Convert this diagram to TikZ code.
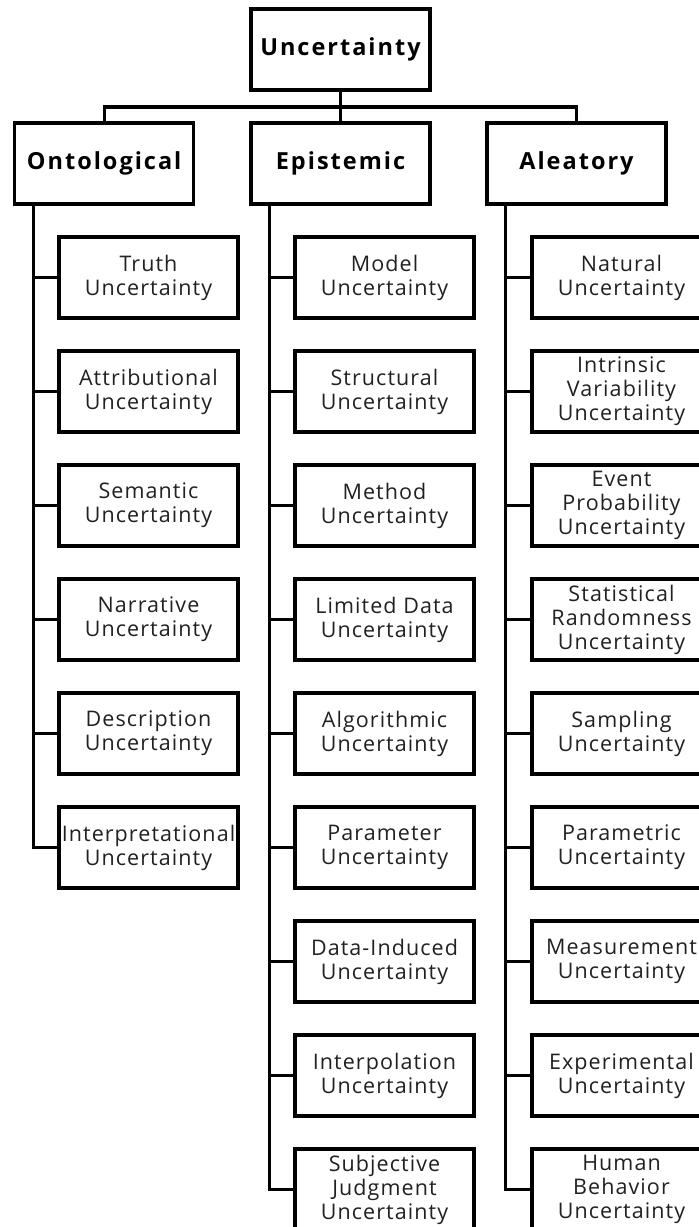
\documentclass[tikz,border=0pt]{standalone}
\usepackage{fontspec}
\setmainfont{Open Sans}
\newfontfamily\leaffont[LetterSpace=5]{Open Sans}
\newfontfamily\headfont[LetterSpace=8.5]{Open Sans}
\begin{document}
\begin{tikzpicture}[x=1pt,y=-1pt,
  box/.style={draw=black, line width=3.2pt, minimum width=179pt, minimum height=81pt, inner sep=0pt, outer sep=0pt, align=center, anchor=north west},
  head/.style={box, font=\headfont\fontsize{23.5}{27}\selectfont\bfseries},
  leaf/.style={box, text=black!87, font=\leaffont\fontsize{21.5}{24}\selectfont},
  conn/.style={line width=3.2pt, line join=miter}
]
\clip (0,0) rectangle (699,1227);
\fill[white] (0,0) rectangle (699,1227);
\node[head] (root) at (251,9) {Uncertainty};
\node[head] (ont) at (14.7,123) {Ontological};
\node[head] (epi) at (251,123) {Epistemic};
\node[head] (ale) at (487,123) {Aleatory};
\coordinate (bus) at (root.south |- 0,107);
\draw[conn] (root.south) -- (bus);
\draw[conn] (ont.north) |- (bus) -| (ale.north);
\draw[conn] (bus) -- (epi.north);
% Ontological children
\foreach \t [count=\i from 0] in {{Truth\\Uncertainty},{Attributional\\Uncertainty},{Semantic\\Uncertainty},{Narrative\\Uncertainty},{Description\\Uncertainty},{Interpretational\\Uncertainty}}{
  \node[leaf] (o\i) at (59,237+114*\i) {\t};
  \draw[conn] ([xshift=18.5pt]ont.south west) |- (o\i.west);
}
% Epistemic children
\foreach \t [count=\i from 0] in {{Model\\Uncertainty},{Structural\\Uncertainty},{Method\\Uncertainty},{Limited Data\\Uncertainty},{Algorithmic\\Uncertainty},{Parameter\\Uncertainty},{Data-Induced\\Uncertainty},{Interpolation\\Uncertainty},{Subjective\\Judgment\\Uncertainty}}{
  \node[leaf] (e\i) at (295,237+114*\i) {\t};
  \draw[conn] ([xshift=18.5pt]epi.south west) |- (e\i.west);
}
% Aleatory children
\foreach \t [count=\i from 0] in {{Natural\\Uncertainty},{Intrinsic\\Variability\\Uncertainty},{Event\\Probability\\Uncertainty},{Statistical\\Randomness\\Uncertainty},{Sampling\\Uncertainty},{Parametric\\Uncertainty},{Measurement\\Uncertainty},{Experimental\\Uncertainty},{Human\\Behavior\\Uncertainty}}{
  \node[leaf] (a\i) at (532,237+114*\i) {\t};
  \draw[conn] ([xshift=18.5pt]ale.south west) |- (a\i.west);
}
\end{tikzpicture}
\end{document}
